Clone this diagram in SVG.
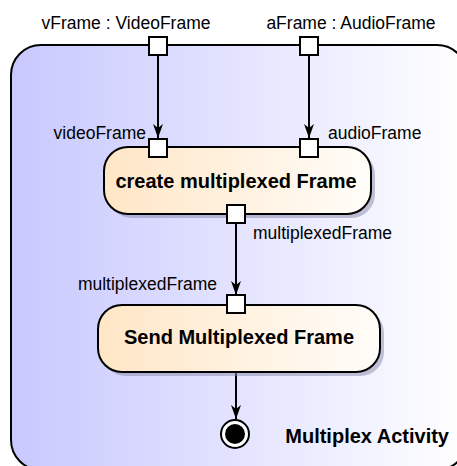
<svg xmlns="http://www.w3.org/2000/svg" width="457" height="466" viewBox="0 0 457 466">
<defs>
<linearGradient id="frameGrad" x1="0" y1="0" x2="1" y2="0">
<stop offset="0" stop-color="#c8c8ff"/>
<stop offset="1" stop-color="#ffffff"/>
</linearGradient>
<linearGradient id="actGrad" x1="0" y1="0" x2="1" y2="0">
<stop offset="0" stop-color="#ffe6c6"/>
<stop offset="1" stop-color="#fffdf9"/>
</linearGradient>
<marker id="arrow" viewBox="0 0 16 12" refX="16" refY="6" markerWidth="16" markerHeight="12" markerUnits="userSpaceOnUse" orient="auto">
<path d="M16,6 L2,1 L6,6 L2,11 Z" fill="#000"/>
</marker>
</defs>
<style>
.lbl{font-family:"Liberation Sans",Arial,sans-serif;font-size:17.5px;fill:#000}
.bold{font-family:"Liberation Sans",Arial,sans-serif;font-size:20px;font-weight:bold;fill:#000}
.pin{fill:#fff;stroke:#000;stroke-width:2}
.act{fill:url(#actGrad);stroke:#000;stroke-width:2}
.shadow{fill:#8888aa;opacity:0.5}
.edge{stroke:#000;stroke-width:2;fill:none}
</style>
<g id="frame">
<rect x="11" y="45" width="456" height="425" rx="30" ry="30" fill="url(#frameGrad)" stroke="#000" stroke-width="2"/>
<text class="bold" x="449" y="443" text-anchor="end">Multiplex Activity</text>
</g>
<g id="connectors">
<line class="edge" x1="158" y1="55" x2="158" y2="138" marker-end="url(#arrow)"/>
<line class="edge" x1="309" y1="55" x2="309" y2="138" marker-end="url(#arrow)"/>
<line class="edge" x1="236" y1="224" x2="236" y2="295" marker-end="url(#arrow)"/>
<line class="edge" x1="236" y1="373" x2="236" y2="419" marker-end="url(#arrow)"/>
</g>
<g id="pin-vFrame">
<rect class="pin" x="149" y="37" width="18" height="18"/>
<text class="lbl" x="126" y="29" text-anchor="middle">vFrame : VideoFrame</text>
</g>
<g id="pin-aFrame">
<rect class="pin" x="300" y="37" width="18" height="18"/>
<text class="lbl" x="351" y="29" text-anchor="middle">aFrame : AudioFrame</text>
</g>
<g id="action-create">
<rect class="shadow" x="108" y="151" width="267" height="67" rx="24" ry="24"/>
<rect class="act" x="104" y="147" width="267" height="67" rx="24" ry="24"/>
<text class="bold" x="236" y="188" text-anchor="middle">create multiplexed Frame</text>
<rect class="pin" x="149" y="139" width="18" height="18"/>
<text class="lbl" x="146" y="139" text-anchor="end">videoFrame</text>
<rect class="pin" x="300" y="139" width="18" height="18"/>
<text class="lbl" x="328" y="139">audioFrame</text>
<rect class="pin" x="227" y="205" width="18" height="18"/>
<text class="lbl" x="253" y="239">multiplexedFrame</text>
</g>
<g id="action-send">
<rect class="shadow" x="102" y="309" width="282" height="67" rx="24" ry="24"/>
<rect class="act" x="98" y="305" width="282" height="67" rx="24" ry="24"/>
<text class="bold" x="239" y="344" text-anchor="middle">Send Multiplexed Frame</text>
<rect class="pin" x="227" y="295" width="18" height="18"/>
<text class="lbl" x="217" y="290" text-anchor="end">multiplexedFrame</text>
</g>
<g id="final-node">
<circle cx="235" cy="434" r="14" fill="#fff" stroke="#000" stroke-width="2"/>
<circle cx="235" cy="434" r="10" fill="#000"/>
</g>
</svg>
